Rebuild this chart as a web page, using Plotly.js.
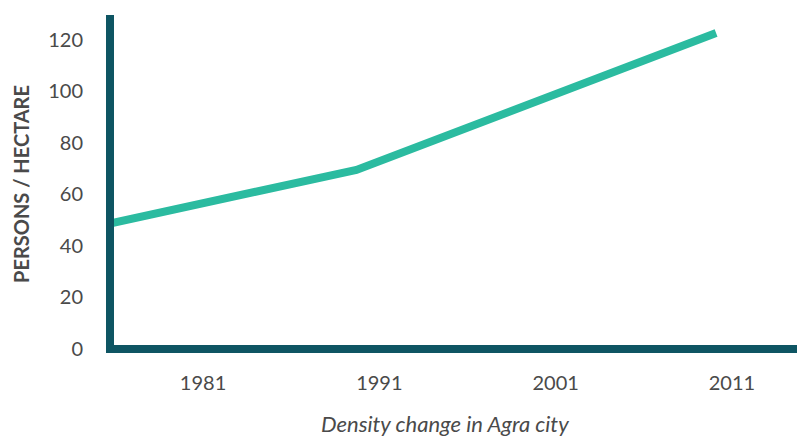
<!DOCTYPE html>
<html>
<head>
<meta charset="utf-8">
<script src="https://cdn.plot.ly/plotly-3.0.1.min.js"></script>
<style>html,body{margin:0;padding:0;background:#fff;}#chart{width:797px;height:436px;}</style>
</head>
<body>
<div id="chart"></div>
<script>
// Data
const years = [1975.8, 1989.7, 2010.1];
const density = [48.8, 69.5, 122.7];
const xTickVals = [1981, 1991, 2001, 2011];
const xTickText = ['1981', '1991', '2001', '2011'];
const yTickVals = [0, 20, 40, 60, 80, 100, 120];
const yTitle = 'PERSONS / HECTARE';
const xTitle = 'Density change in Agra city';

const textColor = '#4a4a4a';
const axisColor = '#0e5563';
const lineColor = '#2bbba0';

const trace = {
  x: years, y: density, type: 'scatter', mode: 'lines',
  line: {color: lineColor, width: 8},
  hoverinfo: 'skip', cliponaxis: true
};

const layout = {
  width: 797, height: 436,
  margin: {l: 114, r: 0, t: 15, b: 83},
  paper_bgcolor: '#fff', plot_bgcolor: '#fff',
  showlegend: false,
  font: {family: 'Lato, sans-serif', color: textColor},
  xaxis: {
    range: [1975.95, 2014.69],
    tickvals: xTickVals, ticktext: xTickText,
    showgrid: false, zeroline: false, showline: false,
    ticks: 'outside', ticklen: 12, tickcolor: 'rgba(0,0,0,0)',
    tickfont: {size: 20, color: textColor}
  },
  yaxis: {
    range: [-1.67, 129.7],
    tickvals: yTickVals,
    showgrid: false,
    zeroline: true, zerolinewidth: 8, zerolinecolor: axisColor,
    showline: true, linewidth: 8, linecolor: axisColor,
    ticks: 'outside', ticklen: 19, tickcolor: 'rgba(0,0,0,0)',
    tickfont: {size: 20, color: textColor},
    title: {text: '<b>' + yTitle + '</b>', font: {size: 20, color: textColor}, standoff: 16}
  },
  annotations: [{
    text: '<i>' + xTitle + '</i>', xref: 'paper', yref: 'paper',
    x: 0.4846, y: -0.21, xanchor: 'center', yanchor: 'middle',
    showarrow: false, font: {size: 22, color: textColor}
  }]
};

Plotly.newPlot('chart', [trace], layout, {displayModeBar: false, staticPlot: true});
</script>
</body>
</html>
